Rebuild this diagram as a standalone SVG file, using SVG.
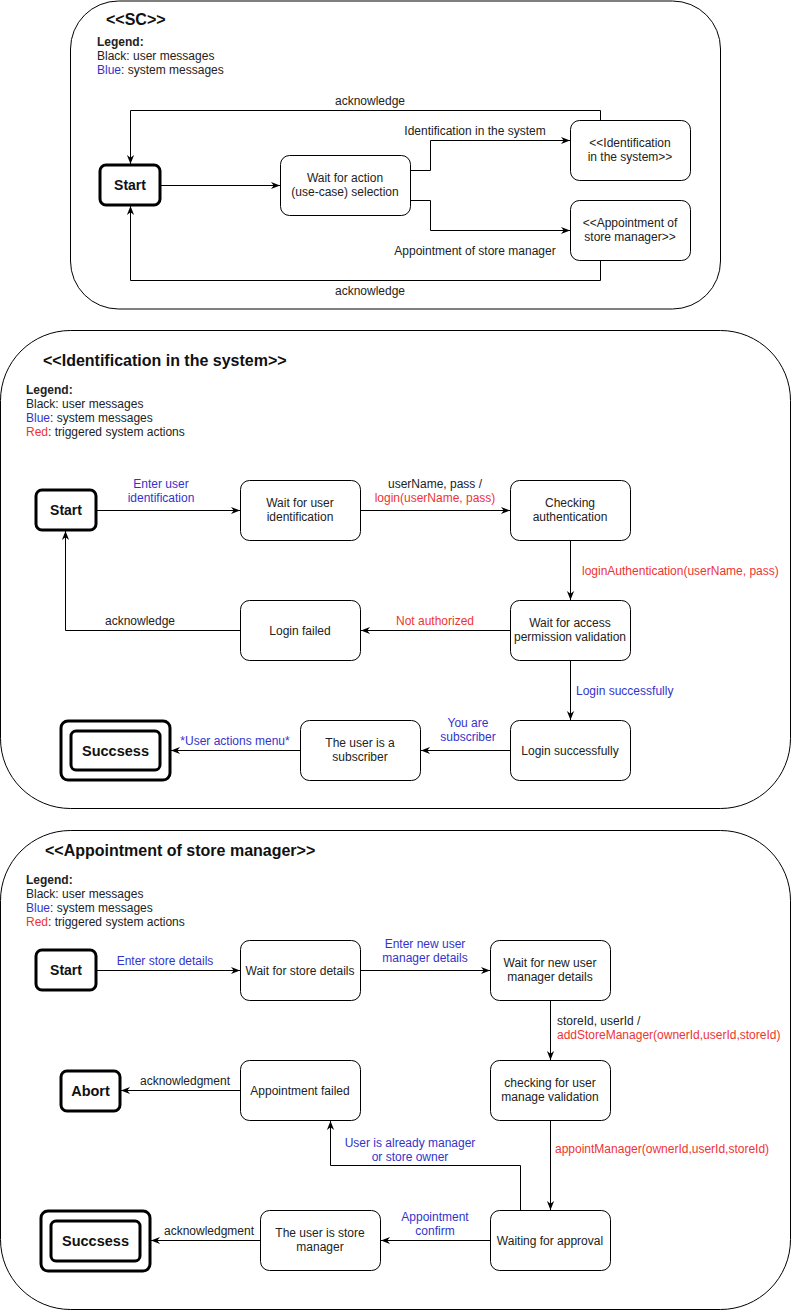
<svg xmlns="http://www.w3.org/2000/svg" width="792" height="1312" viewBox="0 0 792 1312">
<style>
text{font-family:"Liberation Sans",Arial,sans-serif;font-size:12px;fill:#222}
.c{text-anchor:middle}
.b{fill:#3333cc}
.r{fill:#ee3333}
.title{font-size:16px;font-weight:bold;fill:#111}
.lg{font-weight:bold}
.node{fill:#fff;stroke:#000;stroke-width:1}
.term{fill:#fff;stroke:#000;stroke-width:3}
.tt{font-size:14px;font-weight:bold;fill:#111;text-anchor:middle}
.cont{fill:#fff;stroke:#000;stroke-width:1}
.e{fill:none;stroke:#000;stroke-width:1;marker-end:url(#arr)}
</style>
<defs>
<marker id="arr" viewBox="0 0 10 10" refX="10" refY="5" markerWidth="9" markerHeight="9" markerUnits="userSpaceOnUse" orient="auto">
<path d="M0,1 L10,5 L0,9 L3,5 z" fill="#000"/>
</marker>
</defs>
<rect width="792" height="1312" fill="#fff"/>

<!-- containers -->
<g id="sc-container">
<rect class="cont" x="70.5" y="1" width="650" height="308" rx="48" ry="48"/>
<text class="title" x="106" y="25">&lt;&lt;SC&gt;&gt;</text>
<text class="lg" x="97" y="46">Legend:</text>
<text x="97" y="60">Black: user messages</text>
<text x="97" y="74"><tspan class="b">Blue</tspan>: system messages</text>
</g>
<g id="ident-container">
<rect class="cont" x="0.5" y="330.5" width="790" height="478" rx="70" ry="70"/>
<text class="title" x="43" y="366">&lt;&lt;Identification in the system&gt;&gt;</text>
<text class="lg" x="26" y="394">Legend:</text>
<text x="26" y="408">Black: user messages</text>
<text x="26" y="422"><tspan class="b">Blue</tspan>: system messages</text>
<text x="26" y="436"><tspan class="r">Red</tspan>: triggered system actions</text>
</g>
<g id="appoint-container">
<rect class="cont" x="0.5" y="830.5" width="790" height="479" rx="70" ry="70"/>
<text class="title" x="45" y="856">&lt;&lt;Appointment of store manager&gt;&gt;</text>
<text class="lg" x="26" y="884">Legend:</text>
<text x="26" y="898">Black: user messages</text>
<text x="26" y="912"><tspan class="b">Blue</tspan>: system messages</text>
<text x="26" y="926"><tspan class="r">Red</tspan>: triggered system actions</text>
</g>

<!-- SC nodes -->
<g id="sc-start"><rect class="term" x="100" y="165" width="60" height="40" rx="6"/><text class="tt" x="130" y="190">Start</text></g>
<g id="sc-wait"><rect class="node" x="280.5" y="155.5" width="130" height="60" rx="9"/><text class="c" x="345" y="182">Wait for action</text><text class="c" x="345" y="196">(use-case) selection</text></g>
<g id="sc-ident"><rect class="node" x="570.5" y="120.5" width="120" height="60" rx="9"/><text class="c" x="630" y="147">&lt;&lt;Identification</text><text class="c" x="630" y="161">in the system&gt;&gt;</text></g>
<g id="sc-appoint"><rect class="node" x="570.5" y="200.5" width="120" height="60" rx="9"/><text class="c" x="630" y="227">&lt;&lt;Appointment of</text><text class="c" x="630" y="241">store manager&gt;&gt;</text></g>

<!-- Identification nodes -->
<g id="id-start"><rect class="term" x="36" y="490" width="60" height="40" rx="6"/><text class="tt" x="66" y="515">Start</text></g>
<g id="id-wait"><rect class="node" x="240.5" y="480.5" width="120" height="60" rx="9"/><text class="c" x="300" y="507">Wait for user</text><text class="c" x="300" y="521">identification</text></g>
<g id="id-check"><rect class="node" x="510.5" y="480.5" width="120" height="60" rx="9"/><text class="c" x="570" y="507">Checking</text><text class="c" x="570" y="521">authentication</text></g>
<g id="id-access"><rect class="node" x="510.5" y="600.5" width="120" height="60" rx="9"/><text class="c" x="570" y="627">Wait for access</text><text class="c" x="570" y="641">permission validation</text></g>
<g id="id-failed"><rect class="node" x="240.5" y="600.5" width="120" height="60" rx="9"/><text class="c" x="300" y="635">Login failed</text></g>
<g id="id-success"><rect class="node" x="510.5" y="720.5" width="120" height="60" rx="9"/><text class="c" x="570" y="755">Login successfully</text></g>
<g id="id-subscriber"><rect class="node" x="300.5" y="720.5" width="120" height="60" rx="9"/><text class="c" x="360" y="747">The user is a</text><text class="c" x="360" y="761">subscriber</text></g>
<g id="id-final"><rect class="term" x="61" y="721" width="109" height="59" rx="7"/><rect class="term" x="71" y="731" width="89" height="39" rx="5"/><text class="tt" x="115.5" y="756" style="font-size:14.5px">Succsess</text></g>

<!-- Appointment nodes -->
<g id="ap-start"><rect class="term" x="36" y="950" width="60" height="40" rx="6"/><text class="tt" x="66" y="975">Start</text></g>
<g id="ap-waitstore"><rect class="node" x="240.5" y="940.5" width="120" height="60" rx="9"/><text class="c" x="300" y="975">Wait for store details</text></g>
<g id="ap-waitnew"><rect class="node" x="490.5" y="940.5" width="120" height="60" rx="9"/><text class="c" x="550" y="967">Wait for new user</text><text class="c" x="550" y="981">manager details</text></g>
<g id="ap-check"><rect class="node" x="490.5" y="1060.5" width="120" height="60" rx="9"/><text class="c" x="550" y="1087">checking for user</text><text class="c" x="550" y="1101">manage validation</text></g>
<g id="ap-failed"><rect class="node" x="240.5" y="1060.5" width="120" height="60" rx="9"/><text class="c" x="300" y="1095">Appointment failed</text></g>
<g id="ap-abort"><rect class="term" x="61" y="1071" width="59" height="40" rx="6"/><text class="tt" x="90.5" y="1096" style="font-size:14.5px">Abort</text></g>
<g id="ap-approval"><rect class="node" x="490.5" y="1210.5" width="120" height="60" rx="9"/><text class="c" x="550" y="1245">Waiting for approval</text></g>
<g id="ap-manager"><rect class="node" x="260.5" y="1210.5" width="120" height="60" rx="9"/><text class="c" x="320" y="1237">The user is store</text><text class="c" x="320" y="1251">manager</text></g>
<g id="ap-final"><rect class="term" x="41" y="1211" width="109" height="60" rx="7"/><rect class="term" x="51" y="1221" width="89" height="40" rx="5"/><text class="tt" x="95.5" y="1246" style="font-size:14.5px">Succsess</text></g>

<!-- connectors -->
<g id="connectors">
<path class="e" d="M161,185.5 H280"/>
<path class="e" d="M410.5,170.5 H430.5 V140.5 H570"/>
<text class="c" x="475" y="135">Identification in the system</text>
<path class="e" d="M410.5,200.5 H430.5 V230.5 H570"/>
<text class="c" x="475" y="255">Appointment of store manager</text>
<path class="e" d="M600.5,120 V110.5 H130.5 V164"/>
<text class="c" x="370" y="105">acknowledge</text>
<path class="e" d="M600.5,261 V280.5 H130.5 V206"/>
<text class="c" x="370" y="295">acknowledge</text>

<path class="e" d="M97,510.5 H240"/>
<text class="c b" x="161" y="488">Enter user</text>
<text class="c b" x="161" y="502">identification</text>
<path class="e" d="M361,510.5 H510"/>
<text class="c" x="435" y="488">userName, pass /</text>
<text class="c r" x="435" y="502">login(userName, pass)</text>
<path class="e" d="M570.5,541 V600"/>
<text class="r" x="582" y="575">loginAuthentication(userName, pass)</text>
<path class="e" d="M510,630.5 H361"/>
<text class="c r" x="435" y="625">Not authorized</text>
<path class="e" d="M240,630.5 H65.5 V531"/>
<text class="c" x="140" y="625">acknowledge</text>
<path class="e" d="M570.5,661 V720"/>
<text class="b" x="576" y="695">Login successfully</text>
<path class="e" d="M510,750.5 H421"/>
<text class="c b" x="468" y="727">You are</text>
<text class="c b" x="468" y="741">subscriber</text>
<path class="e" d="M300,750.5 H171"/>
<text class="c b" x="235" y="745">*User actions menu*</text>

<path class="e" d="M97,970.5 H240"/>
<text class="c b" x="165" y="965">Enter store details</text>
<path class="e" d="M361,970.5 H490"/>
<text class="c b" x="425" y="948">Enter new user</text>
<text class="c b" x="425" y="962">manager details</text>
<path class="e" d="M550.5,1001 V1060"/>
<text x="557" y="1025">storeId, userId /</text>
<text class="r" x="557" y="1039">addStoreManager(ownerId,userId,storeId)</text>
<path class="e" d="M550.5,1121 V1210"/>
<text class="r" x="555" y="1153">appointManager(ownerId,userId,storeId)</text>
<path class="e" d="M520.5,1210 V1165.5 H330.5 V1121"/>
<text class="c b" x="410" y="1147">User is already manager</text>
<text class="c b" x="410" y="1161">or store owner</text>
<path class="e" d="M240,1090.5 H121"/>
<text class="c" x="185" y="1085">acknowledgment</text>
<path class="e" d="M490,1240.5 H381"/>
<text class="c b" x="435" y="1221">Appointment</text>
<text class="c b" x="435" y="1235">confirm</text>
<path class="e" d="M260,1240.5 H151"/>
<text class="c" x="209" y="1235">acknowledgment</text>
</g>
</svg>
